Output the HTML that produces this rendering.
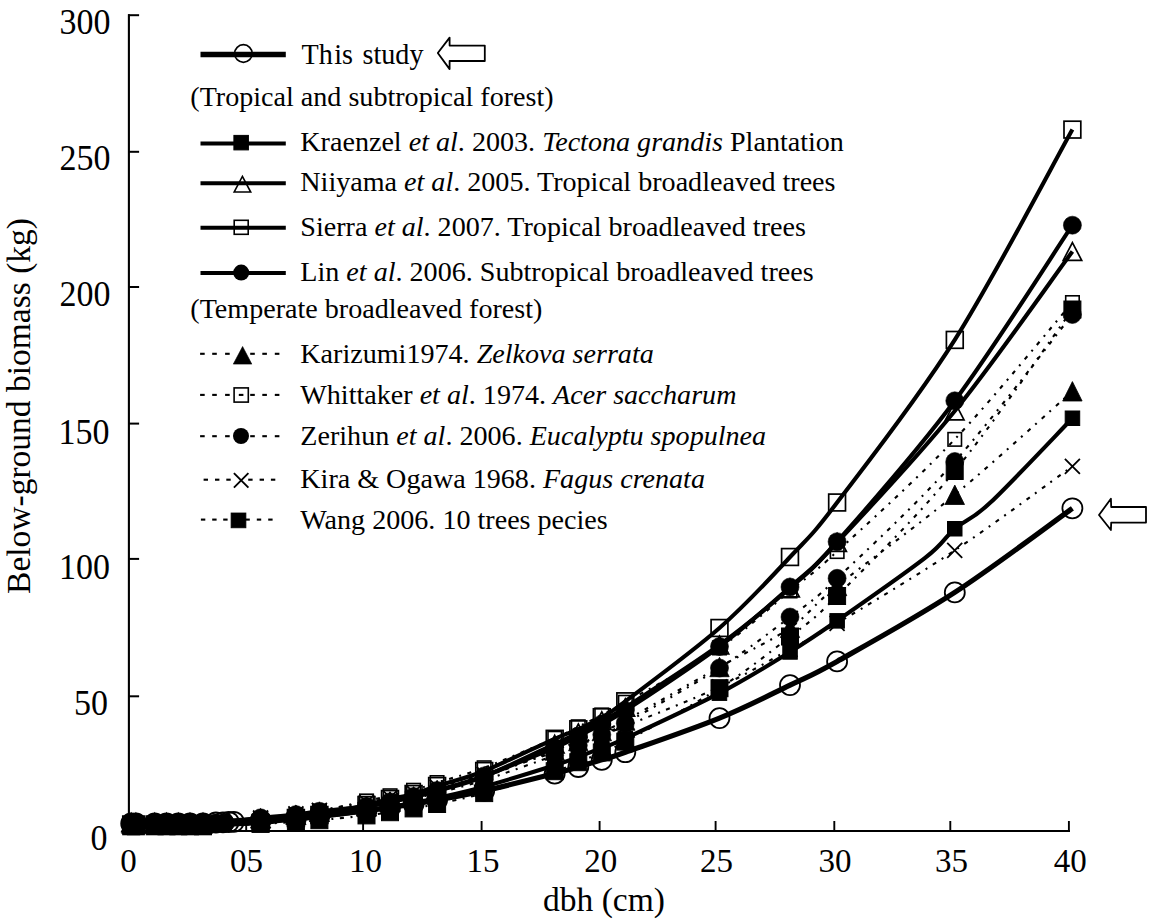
<!DOCTYPE html>
<html><head><meta charset="utf-8"><style>
html,body{margin:0;padding:0;background:#fff;overflow:hidden;}
svg{display:block;}
text{font-family:"Liberation Serif",serif;fill:#000;}
</style></head><body>
<svg width="1150" height="919" viewBox="0 0 1150 919">
<rect width="1150" height="919" fill="#fff"/>
<g><line x1="128.9" y1="14.2" x2="128.9" y2="832" stroke="#000" stroke-width="2.1"/><line x1="127.9" y1="831" x2="1070" y2="831" stroke="#000" stroke-width="2"/><line x1="128" y1="831.5" x2="139.1" y2="831.5" stroke="#000" stroke-width="2"/><line x1="128" y1="696.3" x2="139.1" y2="696.3" stroke="#000" stroke-width="2"/><line x1="128" y1="558.9" x2="139.1" y2="558.9" stroke="#000" stroke-width="2"/><line x1="128" y1="423.6" x2="139.1" y2="423.6" stroke="#000" stroke-width="2"/><line x1="128" y1="287.0" x2="139.1" y2="287.0" stroke="#000" stroke-width="2"/><line x1="128" y1="151.8" x2="139.1" y2="151.8" stroke="#000" stroke-width="2"/><line x1="128" y1="15.2" x2="139.1" y2="15.2" stroke="#000" stroke-width="2"/><line x1="128.9" y1="821" x2="128.9" y2="831.5" stroke="#000" stroke-width="1.9"/><line x1="246.2" y1="821" x2="246.2" y2="831.5" stroke="#000" stroke-width="1.9"/><line x1="363.1" y1="821" x2="363.1" y2="831.5" stroke="#000" stroke-width="1.9"/><line x1="481.6" y1="821" x2="481.6" y2="831.5" stroke="#000" stroke-width="1.9"/><line x1="599.6" y1="821" x2="599.6" y2="831.5" stroke="#000" stroke-width="1.9"/><line x1="715.6" y1="821" x2="715.6" y2="831.5" stroke="#000" stroke-width="1.9"/><line x1="834.3" y1="821" x2="834.3" y2="831.5" stroke="#000" stroke-width="1.9"/><line x1="950.3" y1="821" x2="950.3" y2="831.5" stroke="#000" stroke-width="1.9"/><line x1="1068.9" y1="821" x2="1068.9" y2="831.5" stroke="#000" stroke-width="1.9"/></g>
<g font-size="34"><text transform="translate(107.4,850.1) scale(1,1.045)" text-anchor="end">0</text><text transform="translate(108.0,715.3) scale(1,1.045)" text-anchor="end">50</text><text transform="translate(110.0,578.7) scale(1,1.045)" text-anchor="end">100</text><text transform="translate(109.5,443.8) scale(1,1.045)" text-anchor="end">150</text><text transform="translate(110.5,305.7) scale(1,1.045)" text-anchor="end">200</text><text transform="translate(110.5,170.4) scale(1,1.045)" text-anchor="end">250</text><text transform="translate(110.5,33.8) scale(1,1.045)" text-anchor="end">300</text></g>
<g font-size="33"><text x="128.5" y="871.6" text-anchor="middle">0</text><text x="246.5" y="871.6" text-anchor="middle">05</text><text x="365.5" y="871.6" text-anchor="middle">10</text><text x="483.0" y="871.6" text-anchor="middle">15</text><text x="600.8" y="871.6" text-anchor="middle">20</text><text x="716.5" y="871.6" text-anchor="middle">25</text><text x="835.0" y="871.6" text-anchor="middle">30</text><text x="951.5" y="871.6" text-anchor="middle">35</text><text x="1070.2" y="871.6" text-anchor="middle">40</text></g>
<text x="604" y="911.3" font-size="33.5" text-anchor="middle">dbh (cm)</text>
<text transform="translate(29.7,406) rotate(-90)" font-size="33.5" text-anchor="middle">Below-ground biomass (kg)</text>
<g><path d="M131.20,824.00 C131.98,824.00 131.98,824.00 135.91,824.00 C139.83,824.00 149.63,824.00 154.73,824.00 C159.83,824.00 162.57,824.00 166.50,824.00 C170.42,824.00 174.34,824.00 178.26,824.00 C182.18,824.00 185.91,824.00 190.02,824.00 C194.14,824.00 191.20,825.00 202.97,824.00 C214.73,823.00 245.12,819.68 260.62,817.98 C276.11,816.28 286.11,815.05 295.91,813.80 C305.71,812.54 307.68,812.34 319.44,810.45 C331.20,808.55 354.74,804.52 366.50,802.40 C378.26,800.28 382.19,799.35 390.03,797.71 C397.87,796.07 405.72,794.35 413.56,792.56 C421.40,790.78 425.32,789.99 437.09,786.97 C448.85,783.95 464.54,780.23 484.15,774.45 C503.76,768.67 539.05,757.36 554.74,752.29 C570.43,747.22 570.43,746.84 578.27,744.01 C586.11,741.17 593.96,738.26 601.80,735.28 C609.64,732.29 605.72,734.14 625.33,726.10 C644.94,718.05 692.00,699.81 719.45,687.00 C746.90,674.19 770.43,659.88 790.04,649.26 C809.65,638.63 809.65,639.74 837.10,623.26 C864.55,606.78 915.53,576.56 954.75,550.40 C993.97,524.24 1052.79,480.32 1072.40,466.30" stroke="#000" fill="none" stroke-width="2.1" stroke-dasharray="4 6.5 2 6.5"/><path d="M131.20,826.30 C131.98,826.30 131.98,826.30 135.91,826.30 C139.83,826.30 149.63,826.30 154.73,826.30 C159.83,826.30 162.57,826.30 166.50,826.30 C170.42,826.30 174.34,826.30 178.26,826.30 C182.18,826.30 185.91,826.30 190.02,826.30 C194.14,826.30 191.20,826.71 202.97,826.30 C214.73,825.89 245.12,824.59 260.62,823.87 C276.11,823.15 286.11,822.59 295.91,821.98 C305.71,821.38 307.68,821.34 319.44,820.24 C331.20,819.13 354.74,816.71 366.50,815.37 C378.26,814.02 382.19,813.32 390.03,812.15 C397.87,810.99 405.72,809.73 413.56,808.37 C421.40,807.00 425.32,806.50 437.09,803.96 C448.85,801.42 464.54,798.58 484.15,793.13 C503.76,787.67 539.05,776.36 554.74,771.22 C570.43,766.07 570.43,765.39 578.27,762.25 C586.11,759.11 593.96,755.82 601.80,752.38 C609.64,748.93 605.72,752.26 625.33,741.57 C644.94,730.88 692.00,705.73 719.45,688.22 C746.90,670.72 770.43,651.92 790.04,636.55 C809.65,621.18 809.65,623.59 837.10,596.00 C864.55,568.41 915.53,518.75 954.75,471.00 C993.97,423.25 1052.79,336.42 1072.40,309.50" stroke="#000" fill="none" stroke-width="2.1" stroke-dasharray="4 6.5 2 6.5"/><path d="M131.20,823.30 C131.98,823.30 131.98,823.30 135.91,823.30 C139.83,823.30 149.63,823.30 154.73,823.30 C159.83,823.30 162.57,823.30 166.50,823.30 C170.42,823.30 174.34,823.30 178.26,823.30 C182.18,823.30 185.91,823.30 190.02,823.30 C194.14,823.30 198.65,823.30 202.97,823.30 C207.28,823.30 212.18,823.30 215.91,823.30 C219.63,823.30 217.87,823.98 225.32,823.30 C232.77,822.62 248.85,820.35 260.62,819.20 C272.38,818.05 286.11,817.27 295.91,816.39 C305.71,815.51 307.68,815.42 319.44,813.91 C331.20,812.41 354.74,809.14 366.50,807.36 C378.26,805.58 382.19,804.70 390.03,803.21 C397.87,801.73 405.72,800.15 413.56,798.45 C421.40,796.75 425.32,796.09 437.09,793.04 C448.85,789.99 464.54,786.44 484.15,780.15 C503.76,773.86 539.05,761.07 554.74,755.28 C570.43,749.49 570.43,748.84 578.27,745.41 C586.11,741.98 593.96,738.42 601.80,734.71 C609.64,731.00 605.72,734.28 625.33,723.16 C644.94,712.04 692.00,685.69 719.45,668.00 C746.90,650.31 770.43,631.95 790.04,617.00 C809.65,602.05 809.65,604.22 837.10,578.30 C864.55,552.38 915.53,505.47 954.75,461.50 C993.97,417.53 1052.79,339.00 1072.40,314.50" stroke="#000" fill="none" stroke-width="2.1" stroke-dasharray="4 6.5 2 6.5"/><path d="M131.20,825.00 C131.98,825.00 131.98,825.00 135.91,825.00 C139.83,825.00 149.63,825.00 154.73,825.00 C159.83,825.00 162.57,825.00 166.50,825.00 C170.42,825.00 174.34,825.00 178.26,825.00 C182.18,825.00 185.91,825.00 190.02,825.00 C194.14,825.00 191.20,826.00 202.97,825.00 C214.73,824.00 245.12,820.67 260.62,819.00 C276.11,817.33 286.11,816.33 295.91,815.00 C305.71,813.67 307.68,813.33 319.44,811.00 C331.20,808.67 354.74,803.55 366.50,801.00 C378.26,798.45 382.19,797.48 390.03,795.70 C397.87,793.92 405.72,792.50 413.56,790.30 C421.40,788.10 425.32,786.25 437.09,782.50 C448.85,778.75 464.54,775.18 484.15,767.80 C503.76,760.42 539.05,745.05 554.74,738.20 C570.43,731.35 570.43,730.57 578.27,726.70 C586.11,722.83 593.96,719.07 601.80,715.00 C609.64,710.93 605.72,713.47 625.33,702.30 C644.94,691.13 692.00,666.55 719.45,648.00 C746.90,629.45 770.43,607.08 790.04,591.00 C809.65,574.92 809.65,576.78 837.10,551.50 C864.55,526.22 915.53,480.80 954.75,439.30 C993.97,397.80 1052.79,325.30 1072.40,302.50" stroke="#000" fill="none" stroke-width="2.1" stroke-dasharray="4 6.5 2 6.5"/><path d="M131.20,823.50 C131.98,823.50 131.98,823.50 135.91,823.50 C139.83,823.50 149.63,823.50 154.73,823.50 C159.83,823.50 162.57,823.50 166.50,823.50 C170.42,823.50 174.34,823.50 178.26,823.50 C182.18,823.50 185.91,823.50 190.02,823.50 C194.14,823.50 191.20,824.27 202.97,823.50 C214.73,822.73 245.12,820.26 260.62,818.86 C276.11,817.46 286.11,816.25 295.91,815.10 C305.71,813.96 307.68,813.41 319.44,811.98 C331.20,810.54 354.74,808.25 366.50,806.50 C378.26,804.75 382.19,803.17 390.03,801.50 C397.87,799.83 405.72,798.42 413.56,796.50 C421.40,794.58 425.32,793.25 437.09,790.00 C448.85,786.75 464.54,783.58 484.15,777.00 C503.76,770.42 539.05,756.48 554.74,750.50 C570.43,744.52 570.43,744.34 578.27,741.11 C586.11,737.88 593.96,734.54 601.80,731.10 C609.64,727.66 605.72,731.15 625.33,720.47 C644.94,709.79 692.00,682.43 719.45,667.00 C746.90,651.57 770.43,641.40 790.04,627.90 C809.65,614.40 809.65,608.18 837.10,586.00 C864.55,563.82 915.53,527.25 954.75,494.80 C993.97,462.35 1052.79,408.55 1072.40,391.30" stroke="#000" fill="none" stroke-width="2.1" stroke-dasharray="4 6.5 2 6.5"/><path d="M131.20,827.30 C131.98,827.30 131.98,827.30 135.91,827.30 C139.83,827.30 149.63,827.30 154.73,827.30 C159.83,827.30 162.57,827.30 166.50,827.30 C170.42,827.30 174.34,827.30 178.26,827.30 C182.18,827.30 185.91,827.30 190.02,827.30 C194.14,827.30 191.20,828.14 202.97,827.30 C214.73,826.46 245.12,823.55 260.62,822.24 C276.11,820.94 286.11,820.33 295.91,819.47 C305.71,818.61 307.68,818.50 319.44,817.08 C331.20,815.66 354.74,812.60 366.50,810.94 C378.26,809.28 382.19,808.49 390.03,807.14 C397.87,805.79 405.72,804.35 413.56,802.83 C421.40,801.30 425.32,800.68 437.09,797.98 C448.85,795.29 464.54,792.10 484.15,786.65 C503.76,781.20 539.05,770.23 554.74,765.28 C570.43,760.33 570.43,759.82 578.27,756.94 C586.11,754.05 593.96,751.06 601.80,747.96 C609.64,744.86 605.72,747.47 625.33,738.34 C644.94,729.21 692.00,707.57 719.45,693.17 C746.90,678.77 770.43,664.00 790.04,651.94 C809.65,639.88 814.54,636.51 837.10,620.80 C859.66,605.09 905.79,573.03 925.40,557.70 C945.01,542.37 943.92,537.98 954.75,528.80 C965.58,519.62 970.79,521.02 990.40,502.60 C1010.01,484.18 1058.73,432.35 1072.40,418.30" stroke="#000" fill="none" stroke-width="4.1" stroke-linejoin="round"/><path d="M131.20,822.50 C131.98,822.50 131.98,822.50 135.91,822.50 C139.83,822.50 149.63,822.50 154.73,822.50 C159.83,822.50 162.57,822.50 166.50,822.50 C170.42,822.50 174.34,822.50 178.26,822.50 C182.18,822.50 185.91,822.50 190.02,822.50 C194.14,822.50 191.20,823.18 202.97,822.50 C214.73,821.82 245.12,819.67 260.62,818.43 C276.11,817.18 286.11,816.10 295.91,815.04 C305.71,813.99 307.68,813.51 319.44,812.09 C331.20,810.67 354.74,808.18 366.50,806.50 C378.26,804.82 382.19,803.58 390.03,802.00 C397.87,800.42 405.72,798.83 413.56,797.00 C421.40,795.17 425.32,794.42 437.09,791.00 C448.85,787.58 464.54,784.32 484.15,776.50 C503.76,768.68 539.05,751.36 554.74,744.08 C570.43,736.79 570.43,736.71 578.27,732.79 C586.11,728.87 593.96,724.81 601.80,720.59 C609.64,716.36 605.72,720.04 625.33,707.44 C644.94,694.84 692.00,664.91 719.45,645.00 C746.90,625.09 770.43,605.08 790.04,588.00 C809.65,570.92 809.65,572.00 837.10,542.50 C864.55,513.00 915.53,459.50 954.75,411.00 C993.97,362.50 1052.79,278.08 1072.40,251.50" stroke="#000" fill="none" stroke-width="4.1" stroke-linejoin="round"/><path d="M131.20,823.00 C131.98,823.00 131.98,823.00 135.91,823.00 C139.83,823.00 149.63,823.00 154.73,823.00 C159.83,823.00 162.57,823.00 166.50,823.00 C170.42,823.00 174.34,823.00 178.26,823.00 C182.18,823.00 185.91,823.00 190.02,823.00 C194.14,823.00 198.65,823.00 202.97,823.00 C207.28,823.00 212.18,823.00 215.91,823.00 C219.63,823.00 217.87,823.87 225.32,823.00 C232.77,822.13 248.85,819.20 260.62,817.80 C272.38,816.40 286.11,815.70 295.91,814.60 C305.71,813.50 307.68,812.59 319.44,811.20 C331.20,809.81 354.74,807.86 366.50,806.28 C378.26,804.70 382.19,803.35 390.03,801.71 C397.87,800.07 405.72,798.31 413.56,796.42 C421.40,794.53 425.32,793.80 437.09,790.38 C448.85,786.96 464.54,783.02 484.15,775.89 C503.76,768.76 539.05,754.20 554.74,747.60 C570.43,741.00 570.43,740.22 578.27,736.29 C586.11,732.35 593.96,728.25 601.80,723.98 C609.64,719.71 605.72,723.57 625.33,710.66 C644.94,697.74 692.00,667.11 719.45,646.50 C746.90,625.89 770.43,604.47 790.04,587.00 C809.65,569.53 809.65,572.73 837.10,541.70 C864.55,510.67 915.53,453.55 954.75,400.80 C993.97,348.05 1052.79,254.47 1072.40,225.20" stroke="#000" fill="none" stroke-width="4.1" stroke-linejoin="round"/><path d="M131.20,824.50 C131.98,824.50 131.98,824.50 135.91,824.50 C139.83,824.50 149.63,824.50 154.73,824.50 C159.83,824.50 162.57,824.50 166.50,824.50 C170.42,824.50 174.34,824.50 178.26,824.50 C182.18,824.50 185.91,824.50 190.02,824.50 C194.14,824.50 191.20,824.75 202.97,824.50 C214.73,824.25 245.12,824.08 260.62,823.00 C276.11,821.92 286.11,819.33 295.91,818.00 C305.71,816.67 307.68,817.17 319.44,815.00 C331.20,812.83 354.74,807.67 366.50,805.00 C378.26,802.33 382.19,800.83 390.03,799.00 C397.87,797.17 405.72,796.17 413.56,794.00 C421.40,791.83 425.32,789.83 437.09,786.00 C448.85,782.17 464.54,778.87 484.15,771.00 C503.76,763.13 539.05,745.75 554.74,738.80 C570.43,731.85 570.43,732.90 578.27,729.30 C586.11,725.70 593.96,721.87 601.80,717.20 C609.64,712.53 605.72,716.17 625.33,701.30 C644.94,686.43 692.00,652.05 719.45,628.00 C746.90,603.95 770.43,577.92 790.04,557.00 C809.65,536.08 809.65,538.68 837.10,502.50 C864.55,466.32 915.53,402.05 954.75,339.90 C993.97,277.75 1052.79,164.65 1072.40,129.60" stroke="#000" fill="none" stroke-width="4.1" stroke-linejoin="round"/><path d="M131.20,823.50 C131.98,823.50 131.98,823.50 135.91,823.50 C139.83,823.50 149.63,823.50 154.73,823.50 C159.83,823.50 162.57,823.50 166.50,823.50 C170.42,823.50 174.34,823.50 178.26,823.50 C182.18,823.50 185.91,823.50 190.02,823.50 C194.14,823.50 198.65,823.67 202.97,823.50 C207.28,823.33 212.57,822.70 215.91,822.50 C219.24,822.30 220.81,822.38 222.97,822.30 C225.12,822.22 227.05,822.08 228.85,822.00 C230.65,821.92 228.50,822.07 233.79,821.80 C239.09,821.53 250.26,821.02 260.62,820.38 C270.97,819.74 286.11,818.71 295.91,817.96 C305.71,817.22 307.68,817.12 319.44,815.92 C331.20,814.71 354.74,812.12 366.50,810.73 C378.26,809.34 382.19,808.68 390.03,807.56 C397.87,806.43 405.72,805.25 413.56,803.99 C421.40,802.73 425.32,802.21 437.09,800.01 C448.85,797.80 464.54,795.17 484.15,790.77 C503.76,786.37 539.05,777.57 554.74,773.60 C570.43,769.63 570.43,769.25 578.27,766.96 C586.11,764.67 593.96,762.29 601.80,759.84 C609.64,757.39 605.72,759.21 625.33,752.25 C644.94,745.29 692.00,729.30 719.45,718.10 C746.90,706.90 770.43,694.52 790.04,685.07 C809.65,675.62 809.65,676.85 837.10,661.40 C864.55,645.95 915.53,617.92 954.75,592.40 C993.97,566.88 1052.79,522.32 1072.40,508.30" stroke="#000" fill="none" stroke-width="5.2" stroke-linejoin="round"/></g>
<g><path d="M123.7,816.5L138.7,831.5M138.7,816.5L123.7,831.5" stroke="#000" stroke-width="1.8" fill="none"/>
<path d="M128.4,816.5L143.4,831.5M143.4,816.5L128.4,831.5" stroke="#000" stroke-width="1.8" fill="none"/>
<path d="M147.2,816.5L162.2,831.5M162.2,816.5L147.2,831.5" stroke="#000" stroke-width="1.8" fill="none"/>
<path d="M159.0,816.5L174.0,831.5M174.0,816.5L159.0,831.5" stroke="#000" stroke-width="1.8" fill="none"/>
<path d="M170.8,816.5L185.8,831.5M185.8,816.5L170.8,831.5" stroke="#000" stroke-width="1.8" fill="none"/>
<path d="M182.5,816.5L197.5,831.5M197.5,816.5L182.5,831.5" stroke="#000" stroke-width="1.8" fill="none"/>
<path d="M195.5,816.5L210.5,831.5M210.5,816.5L195.5,831.5" stroke="#000" stroke-width="1.8" fill="none"/>
<path d="M253.1,810.5L268.1,825.5M268.1,810.5L253.1,825.5" stroke="#000" stroke-width="1.8" fill="none"/>
<path d="M288.4,806.3L303.4,821.3M303.4,806.3L288.4,821.3" stroke="#000" stroke-width="1.8" fill="none"/>
<path d="M311.9,802.9L326.9,817.9M326.9,802.9L311.9,817.9" stroke="#000" stroke-width="1.8" fill="none"/>
<path d="M359.0,794.9L374.0,809.9M374.0,794.9L359.0,809.9" stroke="#000" stroke-width="1.8" fill="none"/>
<path d="M382.5,790.2L397.5,805.2M397.5,790.2L382.5,805.2" stroke="#000" stroke-width="1.8" fill="none"/>
<path d="M406.1,785.1L421.1,800.1M421.1,785.1L406.1,800.1" stroke="#000" stroke-width="1.8" fill="none"/>
<path d="M429.6,779.5L444.6,794.5M444.6,779.5L429.6,794.5" stroke="#000" stroke-width="1.8" fill="none"/>
<path d="M476.7,766.9L491.7,781.9M491.7,766.9L476.7,781.9" stroke="#000" stroke-width="1.8" fill="none"/>
<path d="M547.2,744.8L562.2,759.8M562.2,744.8L547.2,759.8" stroke="#000" stroke-width="1.8" fill="none"/>
<path d="M570.8,736.5L585.8,751.5M585.8,736.5L570.8,751.5" stroke="#000" stroke-width="1.8" fill="none"/>
<path d="M594.3,727.8L609.3,742.8M609.3,727.8L594.3,742.8" stroke="#000" stroke-width="1.8" fill="none"/>
<path d="M617.8,718.6L632.8,733.6M632.8,718.6L617.8,733.6" stroke="#000" stroke-width="1.8" fill="none"/>
<path d="M712.0,679.5L727.0,694.5M727.0,679.5L712.0,694.5" stroke="#000" stroke-width="1.8" fill="none"/>
<path d="M782.5,641.8L797.5,656.8M797.5,641.8L782.5,656.8" stroke="#000" stroke-width="1.8" fill="none"/>
<path d="M829.6,615.8L844.6,630.8M844.6,615.8L829.6,630.8" stroke="#000" stroke-width="1.8" fill="none"/>
<path d="M947.2,542.9L962.2,557.9M962.2,542.9L947.2,557.9" stroke="#000" stroke-width="1.8" fill="none"/>
<path d="M1064.9,458.8L1079.9,473.8M1079.9,458.8L1064.9,473.8" stroke="#000" stroke-width="1.8" fill="none"/><rect x="122.7" y="817.8" width="17" height="17" fill="#000" stroke="#000" stroke-width="1"/>
<rect x="127.4" y="817.8" width="17" height="17" fill="#000" stroke="#000" stroke-width="1"/>
<rect x="146.2" y="817.8" width="17" height="17" fill="#000" stroke="#000" stroke-width="1"/>
<rect x="158.0" y="817.8" width="17" height="17" fill="#000" stroke="#000" stroke-width="1"/>
<rect x="169.8" y="817.8" width="17" height="17" fill="#000" stroke="#000" stroke-width="1"/>
<rect x="181.5" y="817.8" width="17" height="17" fill="#000" stroke="#000" stroke-width="1"/>
<rect x="194.5" y="817.8" width="17" height="17" fill="#000" stroke="#000" stroke-width="1"/>
<rect x="252.1" y="815.4" width="17" height="17" fill="#000" stroke="#000" stroke-width="1"/>
<rect x="287.4" y="813.5" width="17" height="17" fill="#000" stroke="#000" stroke-width="1"/>
<rect x="310.9" y="811.7" width="17" height="17" fill="#000" stroke="#000" stroke-width="1"/>
<rect x="358.0" y="806.9" width="17" height="17" fill="#000" stroke="#000" stroke-width="1"/>
<rect x="381.5" y="803.7" width="17" height="17" fill="#000" stroke="#000" stroke-width="1"/>
<rect x="405.1" y="799.9" width="17" height="17" fill="#000" stroke="#000" stroke-width="1"/>
<rect x="428.6" y="795.5" width="17" height="17" fill="#000" stroke="#000" stroke-width="1"/>
<rect x="475.7" y="784.6" width="17" height="17" fill="#000" stroke="#000" stroke-width="1"/>
<rect x="546.2" y="762.7" width="17" height="17" fill="#000" stroke="#000" stroke-width="1"/>
<rect x="569.8" y="753.7" width="17" height="17" fill="#000" stroke="#000" stroke-width="1"/>
<rect x="593.3" y="743.9" width="17" height="17" fill="#000" stroke="#000" stroke-width="1"/>
<rect x="616.8" y="733.1" width="17" height="17" fill="#000" stroke="#000" stroke-width="1"/>
<rect x="711.0" y="679.7" width="17" height="17" fill="#000" stroke="#000" stroke-width="1"/>
<rect x="781.5" y="628.0" width="17" height="17" fill="#000" stroke="#000" stroke-width="1"/>
<rect x="828.6" y="587.5" width="17" height="17" fill="#000" stroke="#000" stroke-width="1"/>
<rect x="946.2" y="462.5" width="17" height="17" fill="#000" stroke="#000" stroke-width="1"/>
<rect x="1063.9" y="301.0" width="17" height="17" fill="#000" stroke="#000" stroke-width="1"/><circle cx="131.2" cy="823.3" r="9.0" fill="#000" stroke="#000" stroke-width="0.6"/>
<circle cx="135.9" cy="823.3" r="9.0" fill="#000" stroke="#000" stroke-width="0.6"/>
<circle cx="154.7" cy="823.3" r="9.0" fill="#000" stroke="#000" stroke-width="0.6"/>
<circle cx="166.5" cy="823.3" r="9.0" fill="#000" stroke="#000" stroke-width="0.6"/>
<circle cx="178.3" cy="823.3" r="9.0" fill="#000" stroke="#000" stroke-width="0.6"/>
<circle cx="190.0" cy="823.3" r="9.0" fill="#000" stroke="#000" stroke-width="0.6"/>
<circle cx="203.0" cy="823.3" r="9.0" fill="#000" stroke="#000" stroke-width="0.6"/>
<circle cx="215.9" cy="823.3" r="9.0" fill="#000" stroke="#000" stroke-width="0.6"/>
<circle cx="225.3" cy="823.3" r="9.0" fill="#000" stroke="#000" stroke-width="0.6"/>
<circle cx="260.6" cy="819.2" r="9.0" fill="#000" stroke="#000" stroke-width="0.6"/>
<circle cx="295.9" cy="816.4" r="9.0" fill="#000" stroke="#000" stroke-width="0.6"/>
<circle cx="319.4" cy="813.9" r="9.0" fill="#000" stroke="#000" stroke-width="0.6"/>
<circle cx="366.5" cy="807.4" r="9.0" fill="#000" stroke="#000" stroke-width="0.6"/>
<circle cx="390.0" cy="803.2" r="9.0" fill="#000" stroke="#000" stroke-width="0.6"/>
<circle cx="413.6" cy="798.4" r="9.0" fill="#000" stroke="#000" stroke-width="0.6"/>
<circle cx="437.1" cy="793.0" r="9.0" fill="#000" stroke="#000" stroke-width="0.6"/>
<circle cx="484.2" cy="780.1" r="9.0" fill="#000" stroke="#000" stroke-width="0.6"/>
<circle cx="554.7" cy="755.3" r="9.0" fill="#000" stroke="#000" stroke-width="0.6"/>
<circle cx="578.3" cy="745.4" r="9.0" fill="#000" stroke="#000" stroke-width="0.6"/>
<circle cx="601.8" cy="734.7" r="9.0" fill="#000" stroke="#000" stroke-width="0.6"/>
<circle cx="625.3" cy="723.2" r="9.0" fill="#000" stroke="#000" stroke-width="0.6"/>
<circle cx="719.5" cy="668.0" r="9.0" fill="#000" stroke="#000" stroke-width="0.6"/>
<circle cx="790.0" cy="617.0" r="9.0" fill="#000" stroke="#000" stroke-width="0.6"/>
<circle cx="837.1" cy="578.3" r="9.0" fill="#000" stroke="#000" stroke-width="0.6"/>
<circle cx="954.8" cy="461.5" r="9.0" fill="#000" stroke="#000" stroke-width="0.6"/>
<circle cx="1072.4" cy="314.5" r="9.0" fill="#000" stroke="#000" stroke-width="0.6"/><rect x="124.4" y="818.2" width="13.5" height="13.5" fill="none" stroke="#000" stroke-width="1.6"/>
<rect x="129.2" y="818.2" width="13.5" height="13.5" fill="none" stroke="#000" stroke-width="1.6"/>
<rect x="148.0" y="818.2" width="13.5" height="13.5" fill="none" stroke="#000" stroke-width="1.6"/>
<rect x="159.7" y="818.2" width="13.5" height="13.5" fill="none" stroke="#000" stroke-width="1.6"/>
<rect x="171.5" y="818.2" width="13.5" height="13.5" fill="none" stroke="#000" stroke-width="1.6"/>
<rect x="183.3" y="818.2" width="13.5" height="13.5" fill="none" stroke="#000" stroke-width="1.6"/>
<rect x="196.2" y="818.2" width="13.5" height="13.5" fill="none" stroke="#000" stroke-width="1.6"/>
<rect x="253.9" y="812.2" width="13.5" height="13.5" fill="none" stroke="#000" stroke-width="1.6"/>
<rect x="289.2" y="808.2" width="13.5" height="13.5" fill="none" stroke="#000" stroke-width="1.6"/>
<rect x="312.7" y="804.2" width="13.5" height="13.5" fill="none" stroke="#000" stroke-width="1.6"/>
<rect x="359.8" y="794.2" width="13.5" height="13.5" fill="none" stroke="#000" stroke-width="1.6"/>
<rect x="383.3" y="789.0" width="13.5" height="13.5" fill="none" stroke="#000" stroke-width="1.6"/>
<rect x="406.8" y="783.5" width="13.5" height="13.5" fill="none" stroke="#000" stroke-width="1.6"/>
<rect x="430.3" y="775.8" width="13.5" height="13.5" fill="none" stroke="#000" stroke-width="1.6"/>
<rect x="477.4" y="761.0" width="13.5" height="13.5" fill="none" stroke="#000" stroke-width="1.6"/>
<rect x="548.0" y="731.5" width="13.5" height="13.5" fill="none" stroke="#000" stroke-width="1.6"/>
<rect x="571.5" y="720.0" width="13.5" height="13.5" fill="none" stroke="#000" stroke-width="1.6"/>
<rect x="595.0" y="708.2" width="13.5" height="13.5" fill="none" stroke="#000" stroke-width="1.6"/>
<rect x="618.6" y="695.5" width="13.5" height="13.5" fill="none" stroke="#000" stroke-width="1.6"/>
<rect x="712.7" y="641.2" width="13.5" height="13.5" fill="none" stroke="#000" stroke-width="1.6"/>
<rect x="783.3" y="584.2" width="13.5" height="13.5" fill="none" stroke="#000" stroke-width="1.6"/>
<rect x="830.4" y="544.8" width="13.5" height="13.5" fill="none" stroke="#000" stroke-width="1.6"/>
<rect x="948.0" y="432.6" width="13.5" height="13.5" fill="none" stroke="#000" stroke-width="1.6"/>
<rect x="1065.7" y="295.8" width="13.5" height="13.5" fill="none" stroke="#000" stroke-width="1.6"/><polygon points="131.2,813.8 140.9,833.2 121.5,833.2" fill="#000" stroke="#000" stroke-width="0.8" stroke-linejoin="miter"/>
<polygon points="135.9,813.8 145.6,833.2 126.2,833.2" fill="#000" stroke="#000" stroke-width="0.8" stroke-linejoin="miter"/>
<polygon points="154.7,813.8 164.4,833.2 145.0,833.2" fill="#000" stroke="#000" stroke-width="0.8" stroke-linejoin="miter"/>
<polygon points="166.5,813.8 176.2,833.2 156.8,833.2" fill="#000" stroke="#000" stroke-width="0.8" stroke-linejoin="miter"/>
<polygon points="178.3,813.8 188.0,833.2 168.6,833.2" fill="#000" stroke="#000" stroke-width="0.8" stroke-linejoin="miter"/>
<polygon points="190.0,813.8 199.7,833.2 180.3,833.2" fill="#000" stroke="#000" stroke-width="0.8" stroke-linejoin="miter"/>
<polygon points="203.0,813.8 212.7,833.2 193.3,833.2" fill="#000" stroke="#000" stroke-width="0.8" stroke-linejoin="miter"/>
<polygon points="260.6,809.2 270.3,828.6 250.9,828.6" fill="#000" stroke="#000" stroke-width="0.8" stroke-linejoin="miter"/>
<polygon points="295.9,805.4 305.6,824.8 286.2,824.8" fill="#000" stroke="#000" stroke-width="0.8" stroke-linejoin="miter"/>
<polygon points="319.4,802.3 329.1,821.7 309.7,821.7" fill="#000" stroke="#000" stroke-width="0.8" stroke-linejoin="miter"/>
<polygon points="366.5,796.8 376.2,816.2 356.8,816.2" fill="#000" stroke="#000" stroke-width="0.8" stroke-linejoin="miter"/>
<polygon points="390.0,791.8 399.7,811.2 380.3,811.2" fill="#000" stroke="#000" stroke-width="0.8" stroke-linejoin="miter"/>
<polygon points="413.6,786.8 423.3,806.2 403.9,806.2" fill="#000" stroke="#000" stroke-width="0.8" stroke-linejoin="miter"/>
<polygon points="437.1,780.3 446.8,799.7 427.4,799.7" fill="#000" stroke="#000" stroke-width="0.8" stroke-linejoin="miter"/>
<polygon points="484.2,767.3 493.9,786.7 474.5,786.7" fill="#000" stroke="#000" stroke-width="0.8" stroke-linejoin="miter"/>
<polygon points="554.7,740.8 564.4,760.2 545.0,760.2" fill="#000" stroke="#000" stroke-width="0.8" stroke-linejoin="miter"/>
<polygon points="578.3,731.4 588.0,750.8 568.6,750.8" fill="#000" stroke="#000" stroke-width="0.8" stroke-linejoin="miter"/>
<polygon points="601.8,721.4 611.5,740.8 592.1,740.8" fill="#000" stroke="#000" stroke-width="0.8" stroke-linejoin="miter"/>
<polygon points="625.3,710.8 635.0,730.2 615.6,730.2" fill="#000" stroke="#000" stroke-width="0.8" stroke-linejoin="miter"/>
<polygon points="719.5,657.3 729.2,676.7 709.8,676.7" fill="#000" stroke="#000" stroke-width="0.8" stroke-linejoin="miter"/>
<polygon points="790.0,618.2 799.7,637.6 780.3,637.6" fill="#000" stroke="#000" stroke-width="0.8" stroke-linejoin="miter"/>
<polygon points="837.1,576.3 846.8,595.7 827.4,595.7" fill="#000" stroke="#000" stroke-width="0.8" stroke-linejoin="miter"/>
<polygon points="954.8,485.1 964.5,504.5 945.0,504.5" fill="#000" stroke="#000" stroke-width="0.8" stroke-linejoin="miter"/>
<polygon points="1072.4,381.6 1082.1,401.0 1062.7,401.0" fill="#000" stroke="#000" stroke-width="0.8" stroke-linejoin="miter"/><rect x="123.9" y="820.0" width="14.5" height="14.5" fill="#000" stroke="#000" stroke-width="1"/>
<rect x="128.7" y="820.0" width="14.5" height="14.5" fill="#000" stroke="#000" stroke-width="1"/>
<rect x="147.5" y="820.0" width="14.5" height="14.5" fill="#000" stroke="#000" stroke-width="1"/>
<rect x="159.2" y="820.0" width="14.5" height="14.5" fill="#000" stroke="#000" stroke-width="1"/>
<rect x="171.0" y="820.0" width="14.5" height="14.5" fill="#000" stroke="#000" stroke-width="1"/>
<rect x="182.8" y="820.0" width="14.5" height="14.5" fill="#000" stroke="#000" stroke-width="1"/>
<rect x="195.7" y="820.0" width="14.5" height="14.5" fill="#000" stroke="#000" stroke-width="1"/>
<rect x="253.4" y="815.0" width="14.5" height="14.5" fill="#000" stroke="#000" stroke-width="1"/>
<rect x="288.7" y="812.2" width="14.5" height="14.5" fill="#000" stroke="#000" stroke-width="1"/>
<rect x="312.2" y="809.8" width="14.5" height="14.5" fill="#000" stroke="#000" stroke-width="1"/>
<rect x="359.2" y="803.7" width="14.5" height="14.5" fill="#000" stroke="#000" stroke-width="1"/>
<rect x="382.8" y="799.9" width="14.5" height="14.5" fill="#000" stroke="#000" stroke-width="1"/>
<rect x="406.3" y="795.6" width="14.5" height="14.5" fill="#000" stroke="#000" stroke-width="1"/>
<rect x="429.8" y="790.7" width="14.5" height="14.5" fill="#000" stroke="#000" stroke-width="1"/>
<rect x="476.9" y="779.4" width="14.5" height="14.5" fill="#000" stroke="#000" stroke-width="1"/>
<rect x="547.5" y="758.0" width="14.5" height="14.5" fill="#000" stroke="#000" stroke-width="1"/>
<rect x="571.0" y="749.7" width="14.5" height="14.5" fill="#000" stroke="#000" stroke-width="1"/>
<rect x="594.5" y="740.7" width="14.5" height="14.5" fill="#000" stroke="#000" stroke-width="1"/>
<rect x="618.1" y="731.1" width="14.5" height="14.5" fill="#000" stroke="#000" stroke-width="1"/>
<rect x="712.2" y="685.9" width="14.5" height="14.5" fill="#000" stroke="#000" stroke-width="1"/>
<rect x="782.8" y="644.7" width="14.5" height="14.5" fill="#000" stroke="#000" stroke-width="1"/>
<rect x="829.9" y="613.6" width="14.5" height="14.5" fill="#000" stroke="#000" stroke-width="1"/>
<rect x="947.5" y="521.5" width="14.5" height="14.5" fill="#000" stroke="#000" stroke-width="1"/>
<rect x="1065.2" y="411.0" width="14.5" height="14.5" fill="#000" stroke="#000" stroke-width="1"/><polygon points="131.2,813.7 140.4,831.3 121.9,831.3" fill="none" stroke="#000" stroke-width="1.7" stroke-linejoin="miter"/>
<polygon points="135.9,813.7 145.2,831.3 126.7,831.3" fill="none" stroke="#000" stroke-width="1.7" stroke-linejoin="miter"/>
<polygon points="154.7,813.7 164.0,831.3 145.5,831.3" fill="none" stroke="#000" stroke-width="1.7" stroke-linejoin="miter"/>
<polygon points="166.5,813.7 175.7,831.3 157.2,831.3" fill="none" stroke="#000" stroke-width="1.7" stroke-linejoin="miter"/>
<polygon points="178.3,813.7 187.5,831.3 169.0,831.3" fill="none" stroke="#000" stroke-width="1.7" stroke-linejoin="miter"/>
<polygon points="190.0,813.7 199.3,831.3 180.8,831.3" fill="none" stroke="#000" stroke-width="1.7" stroke-linejoin="miter"/>
<polygon points="203.0,813.7 212.2,831.3 193.7,831.3" fill="none" stroke="#000" stroke-width="1.7" stroke-linejoin="miter"/>
<polygon points="260.6,809.6 269.9,827.2 251.4,827.2" fill="none" stroke="#000" stroke-width="1.7" stroke-linejoin="miter"/>
<polygon points="295.9,806.3 305.2,823.8 286.7,823.8" fill="none" stroke="#000" stroke-width="1.7" stroke-linejoin="miter"/>
<polygon points="319.4,803.3 328.7,820.9 310.2,820.9" fill="none" stroke="#000" stroke-width="1.7" stroke-linejoin="miter"/>
<polygon points="366.5,797.7 375.8,815.3 357.2,815.3" fill="none" stroke="#000" stroke-width="1.7" stroke-linejoin="miter"/>
<polygon points="390.0,793.2 399.3,810.8 380.8,810.8" fill="none" stroke="#000" stroke-width="1.7" stroke-linejoin="miter"/>
<polygon points="413.6,788.2 422.8,805.8 404.3,805.8" fill="none" stroke="#000" stroke-width="1.7" stroke-linejoin="miter"/>
<polygon points="437.1,782.2 446.3,799.8 427.8,799.8" fill="none" stroke="#000" stroke-width="1.7" stroke-linejoin="miter"/>
<polygon points="484.2,767.7 493.4,785.3 474.9,785.3" fill="none" stroke="#000" stroke-width="1.7" stroke-linejoin="miter"/>
<polygon points="554.7,735.3 564.0,752.9 545.5,752.9" fill="none" stroke="#000" stroke-width="1.7" stroke-linejoin="miter"/>
<polygon points="578.3,724.0 587.5,741.6 569.0,741.6" fill="none" stroke="#000" stroke-width="1.7" stroke-linejoin="miter"/>
<polygon points="601.8,711.8 611.0,729.4 592.5,729.4" fill="none" stroke="#000" stroke-width="1.7" stroke-linejoin="miter"/>
<polygon points="625.3,698.7 634.6,716.2 616.1,716.2" fill="none" stroke="#000" stroke-width="1.7" stroke-linejoin="miter"/>
<polygon points="719.5,636.2 728.7,653.8 710.2,653.8" fill="none" stroke="#000" stroke-width="1.7" stroke-linejoin="miter"/>
<polygon points="790.0,579.2 799.3,596.8 780.8,596.8" fill="none" stroke="#000" stroke-width="1.7" stroke-linejoin="miter"/>
<polygon points="837.1,533.7 846.4,551.3 827.9,551.3" fill="none" stroke="#000" stroke-width="1.7" stroke-linejoin="miter"/>
<polygon points="954.8,402.2 964.0,419.8 945.5,419.8" fill="none" stroke="#000" stroke-width="1.7" stroke-linejoin="miter"/>
<polygon points="1072.4,242.7 1081.7,260.3 1063.2,260.3" fill="none" stroke="#000" stroke-width="1.7" stroke-linejoin="miter"/><circle cx="131.2" cy="823.0" r="9.0" fill="#000" stroke="#000" stroke-width="0.6"/>
<circle cx="135.9" cy="823.0" r="9.0" fill="#000" stroke="#000" stroke-width="0.6"/>
<circle cx="154.7" cy="823.0" r="9.0" fill="#000" stroke="#000" stroke-width="0.6"/>
<circle cx="166.5" cy="823.0" r="9.0" fill="#000" stroke="#000" stroke-width="0.6"/>
<circle cx="178.3" cy="823.0" r="9.0" fill="#000" stroke="#000" stroke-width="0.6"/>
<circle cx="190.0" cy="823.0" r="9.0" fill="#000" stroke="#000" stroke-width="0.6"/>
<circle cx="203.0" cy="823.0" r="9.0" fill="#000" stroke="#000" stroke-width="0.6"/>
<circle cx="215.9" cy="823.0" r="9.0" fill="#000" stroke="#000" stroke-width="0.6"/>
<circle cx="225.3" cy="823.0" r="9.0" fill="#000" stroke="#000" stroke-width="0.6"/>
<circle cx="260.6" cy="817.8" r="9.0" fill="#000" stroke="#000" stroke-width="0.6"/>
<circle cx="295.9" cy="814.6" r="9.0" fill="#000" stroke="#000" stroke-width="0.6"/>
<circle cx="319.4" cy="811.2" r="9.0" fill="#000" stroke="#000" stroke-width="0.6"/>
<circle cx="366.5" cy="806.3" r="9.0" fill="#000" stroke="#000" stroke-width="0.6"/>
<circle cx="390.0" cy="801.7" r="9.0" fill="#000" stroke="#000" stroke-width="0.6"/>
<circle cx="413.6" cy="796.4" r="9.0" fill="#000" stroke="#000" stroke-width="0.6"/>
<circle cx="437.1" cy="790.4" r="9.0" fill="#000" stroke="#000" stroke-width="0.6"/>
<circle cx="484.2" cy="775.9" r="9.0" fill="#000" stroke="#000" stroke-width="0.6"/>
<circle cx="554.7" cy="747.6" r="9.0" fill="#000" stroke="#000" stroke-width="0.6"/>
<circle cx="578.3" cy="736.3" r="9.0" fill="#000" stroke="#000" stroke-width="0.6"/>
<circle cx="601.8" cy="724.0" r="9.0" fill="#000" stroke="#000" stroke-width="0.6"/>
<circle cx="625.3" cy="710.7" r="9.0" fill="#000" stroke="#000" stroke-width="0.6"/>
<circle cx="719.5" cy="646.5" r="9.0" fill="#000" stroke="#000" stroke-width="0.6"/>
<circle cx="790.0" cy="587.0" r="9.0" fill="#000" stroke="#000" stroke-width="0.6"/>
<circle cx="837.1" cy="541.7" r="9.0" fill="#000" stroke="#000" stroke-width="0.6"/>
<circle cx="954.8" cy="400.8" r="9.0" fill="#000" stroke="#000" stroke-width="0.6"/>
<circle cx="1072.4" cy="225.2" r="9.0" fill="#000" stroke="#000" stroke-width="0.6"/><rect x="122.8" y="816.1" width="16.8" height="16.8" fill="none" stroke="#000" stroke-width="1.7"/>
<rect x="127.5" y="816.1" width="16.8" height="16.8" fill="none" stroke="#000" stroke-width="1.7"/>
<rect x="146.3" y="816.1" width="16.8" height="16.8" fill="none" stroke="#000" stroke-width="1.7"/>
<rect x="158.1" y="816.1" width="16.8" height="16.8" fill="none" stroke="#000" stroke-width="1.7"/>
<rect x="169.9" y="816.1" width="16.8" height="16.8" fill="none" stroke="#000" stroke-width="1.7"/>
<rect x="181.6" y="816.1" width="16.8" height="16.8" fill="none" stroke="#000" stroke-width="1.7"/>
<rect x="194.6" y="816.1" width="16.8" height="16.8" fill="none" stroke="#000" stroke-width="1.7"/>
<rect x="252.2" y="814.6" width="16.8" height="16.8" fill="none" stroke="#000" stroke-width="1.7"/>
<rect x="287.5" y="809.6" width="16.8" height="16.8" fill="none" stroke="#000" stroke-width="1.7"/>
<rect x="311.0" y="806.6" width="16.8" height="16.8" fill="none" stroke="#000" stroke-width="1.7"/>
<rect x="358.1" y="796.6" width="16.8" height="16.8" fill="none" stroke="#000" stroke-width="1.7"/>
<rect x="381.6" y="790.6" width="16.8" height="16.8" fill="none" stroke="#000" stroke-width="1.7"/>
<rect x="405.2" y="785.6" width="16.8" height="16.8" fill="none" stroke="#000" stroke-width="1.7"/>
<rect x="428.7" y="777.6" width="16.8" height="16.8" fill="none" stroke="#000" stroke-width="1.7"/>
<rect x="475.8" y="762.6" width="16.8" height="16.8" fill="none" stroke="#000" stroke-width="1.7"/>
<rect x="546.3" y="730.4" width="16.8" height="16.8" fill="none" stroke="#000" stroke-width="1.7"/>
<rect x="569.9" y="720.9" width="16.8" height="16.8" fill="none" stroke="#000" stroke-width="1.7"/>
<rect x="593.4" y="708.8" width="16.8" height="16.8" fill="none" stroke="#000" stroke-width="1.7"/>
<rect x="616.9" y="692.9" width="16.8" height="16.8" fill="none" stroke="#000" stroke-width="1.7"/>
<rect x="711.1" y="619.6" width="16.8" height="16.8" fill="none" stroke="#000" stroke-width="1.7"/>
<rect x="781.6" y="548.6" width="16.8" height="16.8" fill="none" stroke="#000" stroke-width="1.7"/>
<rect x="828.7" y="494.1" width="16.8" height="16.8" fill="none" stroke="#000" stroke-width="1.7"/>
<rect x="946.4" y="331.5" width="16.8" height="16.8" fill="none" stroke="#000" stroke-width="1.7"/>
<rect x="1064.0" y="121.2" width="16.8" height="16.8" fill="none" stroke="#000" stroke-width="1.7"/><circle cx="131.2" cy="823.5" r="10" fill="none" stroke="#000" stroke-width="1.8"/>
<circle cx="135.9" cy="823.5" r="10" fill="none" stroke="#000" stroke-width="1.8"/>
<circle cx="154.7" cy="823.5" r="10" fill="none" stroke="#000" stroke-width="1.8"/>
<circle cx="166.5" cy="823.5" r="10" fill="none" stroke="#000" stroke-width="1.8"/>
<circle cx="178.3" cy="823.5" r="10" fill="none" stroke="#000" stroke-width="1.8"/>
<circle cx="190.0" cy="823.5" r="10" fill="none" stroke="#000" stroke-width="1.8"/>
<circle cx="203.0" cy="823.5" r="10" fill="none" stroke="#000" stroke-width="1.8"/>
<circle cx="215.9" cy="822.5" r="10" fill="none" stroke="#000" stroke-width="1.8"/>
<circle cx="223.0" cy="822.3" r="10" fill="none" stroke="#000" stroke-width="1.8"/>
<circle cx="228.8" cy="822.0" r="10" fill="none" stroke="#000" stroke-width="1.8"/>
<circle cx="233.8" cy="821.8" r="10" fill="none" stroke="#000" stroke-width="1.8"/>
<circle cx="260.6" cy="820.4" r="10" fill="none" stroke="#000" stroke-width="1.8"/>
<circle cx="295.9" cy="818.0" r="10" fill="none" stroke="#000" stroke-width="1.8"/>
<circle cx="319.4" cy="815.9" r="10" fill="none" stroke="#000" stroke-width="1.8"/>
<circle cx="366.5" cy="810.7" r="10" fill="none" stroke="#000" stroke-width="1.8"/>
<circle cx="390.0" cy="807.6" r="10" fill="none" stroke="#000" stroke-width="1.8"/>
<circle cx="413.6" cy="804.0" r="10" fill="none" stroke="#000" stroke-width="1.8"/>
<circle cx="437.1" cy="800.0" r="10" fill="none" stroke="#000" stroke-width="1.8"/>
<circle cx="484.2" cy="790.8" r="10" fill="none" stroke="#000" stroke-width="1.8"/>
<circle cx="554.7" cy="773.6" r="10" fill="none" stroke="#000" stroke-width="1.8"/>
<circle cx="578.3" cy="767.0" r="10" fill="none" stroke="#000" stroke-width="1.8"/>
<circle cx="601.8" cy="759.8" r="10" fill="none" stroke="#000" stroke-width="1.8"/>
<circle cx="625.3" cy="752.2" r="10" fill="none" stroke="#000" stroke-width="1.8"/>
<circle cx="719.5" cy="718.1" r="10" fill="none" stroke="#000" stroke-width="1.8"/>
<circle cx="790.0" cy="685.1" r="10" fill="none" stroke="#000" stroke-width="1.8"/>
<circle cx="837.1" cy="661.4" r="10" fill="none" stroke="#000" stroke-width="1.8"/>
<circle cx="954.8" cy="592.4" r="10" fill="none" stroke="#000" stroke-width="1.8"/>
<circle cx="1072.4" cy="508.3" r="10" fill="none" stroke="#000" stroke-width="1.8"/></g>
<g><line x1="200.5" y1="54.5" x2="285.8" y2="54.5" stroke="#000" stroke-width="5.5"/><circle cx="243.4" cy="53.5" r="8.8" fill="none" stroke="#000" stroke-width="1.7"/><line x1="200.5" y1="143.5" x2="285.8" y2="143.5" stroke="#000" stroke-width="4"/><rect x="233.9" y="135.4" width="14.5" height="14.5" fill="#000" stroke="#000" stroke-width="1"/><line x1="200.5" y1="183.3" x2="285.8" y2="183.3" stroke="#000" stroke-width="4"/><polygon points="242.4,176.4 250.7,192.0 234.2,192.0" fill="none" stroke="#000" stroke-width="1.6" stroke-linejoin="miter"/><line x1="200.5" y1="227.8" x2="285.8" y2="227.8" stroke="#000" stroke-width="4"/><rect x="234.2" y="220.3" width="14" height="14" fill="none" stroke="#000" stroke-width="1.6"/><line x1="200.5" y1="273" x2="285.8" y2="273" stroke="#000" stroke-width="4"/><circle cx="241.2" cy="272.6" r="8" fill="#000" stroke="#000" stroke-width="0"/><line x1="200.1" y1="353.8" x2="204.7" y2="353.8" stroke="#000" stroke-width="2.1"/><line x1="212.2" y1="353.8" x2="216.8" y2="353.8" stroke="#000" stroke-width="2.1"/><line x1="225.1" y1="353.8" x2="229.7" y2="353.8" stroke="#000" stroke-width="2.1"/><line x1="250.2" y1="353.8" x2="254.8" y2="353.8" stroke="#000" stroke-width="2.1"/><line x1="262.3" y1="353.8" x2="266.9" y2="353.8" stroke="#000" stroke-width="2.1"/><line x1="274.8" y1="353.8" x2="279.4" y2="353.8" stroke="#000" stroke-width="2.1"/><polygon points="242.6,346.5 251.8,364.1 233.3,364.1" fill="#000" stroke="#000" stroke-width="0.6" stroke-linejoin="miter"/><line x1="200.1" y1="394.9" x2="204.7" y2="394.9" stroke="#000" stroke-width="2.1"/><line x1="212.2" y1="394.9" x2="216.8" y2="394.9" stroke="#000" stroke-width="2.1"/><line x1="225.1" y1="394.9" x2="229.7" y2="394.9" stroke="#000" stroke-width="2.1"/><line x1="250.2" y1="394.9" x2="254.8" y2="394.9" stroke="#000" stroke-width="2.1"/><line x1="262.3" y1="394.9" x2="266.9" y2="394.9" stroke="#000" stroke-width="2.1"/><line x1="274.8" y1="394.9" x2="279.4" y2="394.9" stroke="#000" stroke-width="2.1"/><rect x="234.1" y="387.9" width="14.2" height="14.2" fill="#fff" stroke="#000" stroke-width="1.6"/><line x1="238.8" y1="394.9" x2="243.4" y2="394.9" stroke="#000" stroke-width="2.1"/><line x1="200.1" y1="436.2" x2="204.7" y2="436.2" stroke="#000" stroke-width="2.1"/><line x1="212.2" y1="436.2" x2="216.8" y2="436.2" stroke="#000" stroke-width="2.1"/><line x1="225.1" y1="436.2" x2="229.7" y2="436.2" stroke="#000" stroke-width="2.1"/><line x1="250.2" y1="436.2" x2="254.8" y2="436.2" stroke="#000" stroke-width="2.1"/><line x1="262.3" y1="436.2" x2="266.9" y2="436.2" stroke="#000" stroke-width="2.1"/><line x1="274.8" y1="436.2" x2="279.4" y2="436.2" stroke="#000" stroke-width="2.1"/><circle cx="241.0" cy="436.0" r="8" fill="#000" stroke="#000" stroke-width="0"/><line x1="203.6" y1="479.7" x2="208.0" y2="479.7" stroke="#000" stroke-width="2.1"/><line x1="215.0" y1="479.7" x2="219.4" y2="479.7" stroke="#000" stroke-width="2.1"/><line x1="226.3" y1="479.7" x2="230.7" y2="479.7" stroke="#000" stroke-width="2.1"/><line x1="248.2" y1="479.7" x2="252.6" y2="479.7" stroke="#000" stroke-width="2.1"/><line x1="259.6" y1="479.7" x2="264.0" y2="479.7" stroke="#000" stroke-width="2.1"/><line x1="270.9" y1="479.7" x2="275.3" y2="479.7" stroke="#000" stroke-width="2.1"/><path d="M233.9,473.1L248.4,487.6M248.4,473.1L233.9,487.6" stroke="#000" stroke-width="1.9" fill="none"/><line x1="200.9" y1="519.6" x2="205.3" y2="519.6" stroke="#000" stroke-width="2.1"/><line x1="212.2" y1="519.6" x2="216.6" y2="519.6" stroke="#000" stroke-width="2.1"/><line x1="223.2" y1="519.6" x2="227.6" y2="519.6" stroke="#000" stroke-width="2.1"/><line x1="256.8" y1="519.6" x2="261.2" y2="519.6" stroke="#000" stroke-width="2.1"/><line x1="268.2" y1="519.6" x2="272.6" y2="519.6" stroke="#000" stroke-width="2.1"/><line x1="244.0" y1="519.6" x2="249.8" y2="519.6" stroke="#000" stroke-width="2.1"/><rect x="231.1" y="513.0" width="14.8" height="14.8" fill="#000" stroke="#000" stroke-width="0.8"/></g>
<g font-size="28.1">
<text transform="translate(0,64.4) scale(1,1.05)"><tspan x="301.5" y="0">Th</tspan><tspan x="334.2" y="0">is</tspan><tspan x="362.6" y="0">study</tspan></text>
<text x="190.3" y="106">(Tropical and subtropical forest)</text>
<text x="300.3" y="151.2">Kraenzel <tspan font-style="italic">et al</tspan>. 2003. <tspan font-style="italic">Tectona grandis</tspan> Plantation</text>
<text x="300.3" y="191.4">Niiyama <tspan font-style="italic">et al</tspan>. 2005. Tropical broadleaved trees</text>
<text x="300.3" y="235.7">Sierra <tspan font-style="italic">et al</tspan>. 2007. Tropical broadleaved trees</text>
<text x="300.3" y="281.2">Lin <tspan font-style="italic">et al</tspan>. 2006. Subtropical broadleaved trees</text>
<text x="190.3" y="317.9">(Temperate broadleaved forest)</text>
<text x="300.3" y="362.8">Karizumi1974. <tspan font-style="italic">Zelkova serrata</tspan></text>
<text x="300.3" y="404">Whittaker <tspan font-style="italic">et al</tspan>. 1974. <tspan font-style="italic">Acer saccharum</tspan></text>
<text x="300.3" y="445.2">Zerihun <tspan font-style="italic">et al</tspan>. 2006. <tspan font-style="italic">Eucalyptu spopulnea</tspan></text>
<text x="300.3" y="487.6">Kira &amp; Ogawa 1968. <tspan font-style="italic">Fagus crenata</tspan></text>
<text x="300.3" y="528.8">Wang 2006. 10 trees pecies</text>
</g>
<path d="M437.8,53 L449.6,37.6 L449.6,45.6 L484.8,45.6 L484.8,61 L449.6,61 L449.6,69.1 Z" fill="#fff" stroke="#000" stroke-width="1.8" stroke-linejoin="round"/>
<path d="M1099,515 L1110.9,498.7 L1111.2,507 L1146,507 L1146,522.6 L1111.2,522.6 L1110.9,530 Z" fill="#fff" stroke="#000" stroke-width="1.8" stroke-linejoin="round"/>
</svg>
</body></html>
